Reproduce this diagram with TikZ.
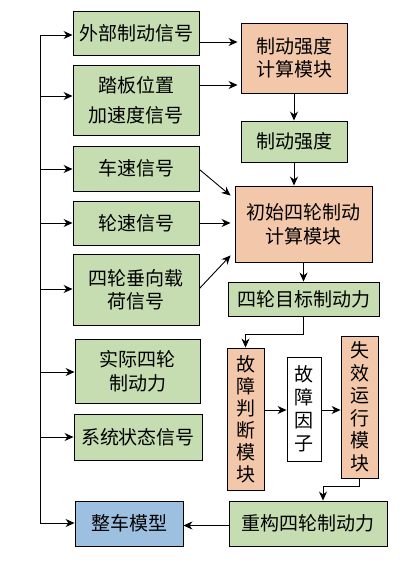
\documentclass[tikz,border=0pt]{standalone}
\usepackage{fontspec}
\setmainfont{Noto Sans CJK SC}
\usetikzlibrary{arrows.meta}
\definecolor{gbox}{RGB}{197,221,176}
\definecolor{obox}{RGB}{243,199,169}
\definecolor{bbox}{RGB}{157,192,224}
\tikzset{
  box/.style={draw=black, line width=0.9pt, inner sep=0pt, align=center,
    font=\fontsize{19}{24}\selectfont},
  gnode/.style={box, fill=gbox},
  onode/.style={box, fill=obox},
  bnode/.style={box, fill=bbox},
  wnode/.style={box, fill=white},
  arr/.style={line width=0.9pt, -{Stealth[length=9pt,width=8pt]}},
  ln/.style={line width=0.9pt},
}
\begin{document}
\begin{tikzpicture}[x=1pt,y=-1pt]
\useasboundingbox (0,0) rectangle (409,563);
% left column
\node[gnode, minimum width=126, minimum height=44] (ext) at (136,33) {外部制动信号};
\node[gnode, minimum width=126, minimum height=70, font=\fontsize{19}{30}\selectfont] (pedal) at (136,100) {踏板位置\\加速度信号};
\node[gnode, minimum width=126, minimum height=45] (speed) at (136,168.5) {车速信号};
\node[gnode, minimum width=126, minimum height=44] (wheel) at (136,223) {轮速信号};
\node[gnode, minimum width=126, minimum height=71, font=\fontsize{19}{23}\selectfont] (load) at (136,289.5) {四轮垂向载\\荷信号};
\node[gnode, minimum width=125, minimum height=64] (actual) at (137.5,371) {实际四轮\\制动力};
\node[gnode, minimum width=128, minimum height=46] (state) at (138,437) {系统状态信号};
\node[bnode, minimum width=108, minimum height=45] (veh) at (129,523.5) {整车模型};
% right column
\node[onode, minimum width=106, minimum height=70, font=\fontsize{19}{23}\selectfont] (calc) at (294,58) {制动强度\\计算模块};
\node[gnode, minimum width=106, minimum height=41] (inten) at (294,141.5) {制动强度};
\node[onode, minimum width=137, minimum height=76] (init) at (303.5,224) {初始四轮制动\\计算模块};
\node[gnode, minimum width=151, minimum height=34] (target) at (303.5,299) {四轮目标制动力};
\node[onode, minimum width=37, minimum height=142, font=\fontsize{19}{22}\selectfont] (judge) at (245.5,419) {故\\障\\判\\断\\模\\块};
\node[wnode, minimum width=34, minimum height=104, font=\fontsize{19}{23}\selectfont] (factor) at (304,409) {故\\障\\因\\子};
\node[onode, minimum width=37, minimum height=142, font=\fontsize{19}{22.5}\selectfont] (fail) at (359.5,407) {失\\效\\运\\行\\模\\块};
\node[gnode, minimum width=158, minimum height=45] (recon) at (308,523.5) {重构四轮制动力};
% trunk
\coordinate (t1) at (40,35);
\coordinate (t2) at (40,96);
\coordinate (t3) at (40,169);
\coordinate (t4) at (40,223);
\coordinate (t5) at (40,289);
\coordinate (t6) at (40,372);
\coordinate (t7) at (40,437);
\coordinate (t8) at (40,523);
\draw[ln] (t1) -- (t8);
\draw[arr] (t1) -- (t1 -| ext.west);
\draw[arr] (t2) -- (t2 -| pedal.west);
\draw[arr] (t3) -- (t3 -| speed.west);
\draw[arr] (t4) -- (t4 -| wheel.west);
\draw[arr] (t5) -- (t5 -| load.west);
\draw[arr] (t6) -- (t6 -| actual.west);
\draw[arr] (t7) -- (t7 -| state.west);
\draw[arr] (t8) -- (t8 -| veh.west);
% inputs to calc
\coordinate (e1) at ([yshift=-9pt]ext.east);
\coordinate (e2) at ([yshift=15pt]pedal.east);
\draw[arr] (e1) -- ([xshift=-3pt]e1 -| calc.west);
\draw[arr] (e2) -- ([xshift=-3pt]e2 -| calc.west);
\draw[arr] (calc.south) -- (inten.north);
\draw[arr] (inten.south) -- (inten.south |- init.north);
% inputs to init
\draw[arr] ([yshift=-1pt]speed.east) -- ([xshift=-4pt,yshift=-10pt]init.north west);
\draw[arr] (wheel.east) -- ([xshift=-4pt]wheel.east -| init.west);
\draw[arr] ([yshift=1pt]load.east) -- ([xshift=-4pt,yshift=7pt]init.south west);
\draw[arr] (init.south) -- (target.north);
% fault chain
\coordinate (k1) at ([yshift=-18pt]target.south);
\draw[arr] (target.south) -- (k1) -- (k1 -| judge.north) -- (judge.north);
\coordinate (f1) at ([yshift=9pt]judge.east);
\draw[arr] (f1) -- (f1 -| factor.west);
\draw[arr] (f1 -| factor.east) -- (f1 -| fail.west);
\coordinate (k2) at ([yshift=-8pt]fail.south);
\coordinate (k3) at ([xshift=15pt]recon.north);
\draw[arr] (fail.south) -- (k2) -- (k2 -| k3) -- (k3);
\draw[arr] ([yshift=-2pt]recon.west) -- ([yshift=-2pt]recon.west -| veh.east);
\end{tikzpicture}
\end{document}
